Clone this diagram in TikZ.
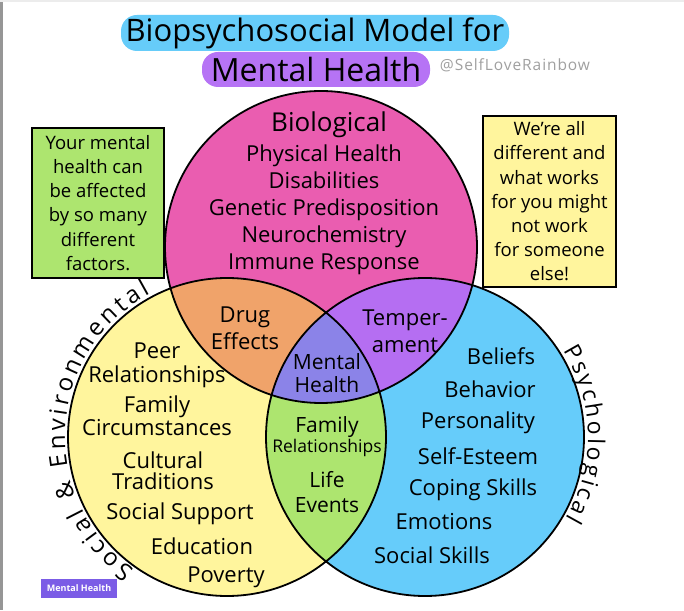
\documentclass[tikz,border=0pt]{standalone}
\usepackage{fontspec}
\setmainfont{Open Sans}
\newfontfamily\handlefont[LetterSpace=6]{Open Sans}
\usetikzlibrary{decorations.text}
\definecolor{pinkc}{RGB}{234,93,176}
\definecolor{yellowc}{RGB}{255,245,157}
\definecolor{bluec}{RGB}{102,204,250}
\definecolor{orangec}{RGB}{240,163,106}
\definecolor{purplec}{RGB}{181,110,242}
\definecolor{greenc}{RGB}{173,229,111}
\definecolor{centerc}{RGB}{139,131,232}
\definecolor{titleblue}{RGB}{102,204,249}
\definecolor{titlepurple}{RGB}{182,115,245}
\definecolor{badgec}{RGB}{123,92,230}
\definecolor{handlegray}{RGB}{160,160,160}
\definecolor{framegray}{RGB}{150,150,150}
\begin{document}
\begin{tikzpicture}[x=1pt,y=1pt,
  outline/.style={line width=1.8pt, draw=black},
  lbl/.style={font=\fontsize{22}{25}\selectfont, align=center, inner sep=0pt},
  notebox/.style={draw=black, line width=1.6pt, align=center, inner sep=0pt, font=\fontsize{18.5}{24.2}\selectfont},
  titlebox/.style={rounded corners=16pt, inner sep=0pt, minimum height=36pt},
  arctext/.style={decorate, decoration={text along path, text align=fit to path}}]
\useasboundingbox (0,0) rectangle (684,610);
\fill[white] (0,0) rectangle (684,610);
\fill[framegray] (0,0) rectangle (2.5,610);
\fill[gray!15] (0,608) rectangle (684,610);

% title
\node[titlebox, fill=titleblue, minimum width=388pt, font=\fontsize{31}{31}\selectfont] (t1) at (315,577) {Biopsychosocial Model for};
\node[titlebox, fill=titlepurple, minimum width=228pt, minimum height=35pt, font=\fontsize{32}{32}\selectfont] (t2) at (316,540.5) {Mental Health};
\node[text=handlegray, font=\handlefont\fontsize{15.5}{15.5}\selectfont, inner sep=0pt] (handle) at (515,545) {@SelfLoveRainbow};

% circles
\coordinate (P) at (321,363);
\coordinate (Y) at (227,173);
\coordinate (B) at (425,173);
\fill[pinkc] (P) circle[radius=156];
\fill[yellowc] (Y) circle[radius=159];
\fill[bluec] (B) circle[radius=159];
\begin{scope}
  \clip (P) circle[radius=156];
  \fill[orangec] (Y) circle[radius=159];
  \fill[purplec] (B) circle[radius=159];
\end{scope}
\begin{scope}
  \clip (Y) circle[radius=159];
  \fill[greenc] (B) circle[radius=159];
  \clip (P) circle[radius=156];
  \fill[centerc] (B) circle[radius=159];
\end{scope}
\draw[outline] (P) circle[radius=156] (Y) circle[radius=159] (B) circle[radius=159];

% note boxes
\node[notebox, fill=greenc, minimum width=132pt, minimum height=150pt] (lbox) at (98,407) {Your mental\\health can\\be affected\\by so many\\different\\factors.};
\node[notebox, fill=yellowc, minimum width=133pt, minimum height=171pt] (rbox) at (549.5,408.5) {We're all\\different and\\what works\\for you might\\not work\\for someone\\else!};

% biological
\node[lbl, font=\fontsize{26}{26}\selectfont] (bio) at (329,485) {Biological};
\node[lbl, font=\fontsize{22}{27}\selectfont] (biolist) at (324,400) {Physical Health\\Disabilities\\Genetic Predisposition\\Neurochemistry\\Immune Response};

% overlaps
\node[lbl, font=\fontsize{22}{27.5}\selectfont] (drug) at (245,281.5) {Drug\\Effects};
\node[lbl, font=\fontsize{22}{27}\selectfont] (temper) at (405,278.5) {Temper-\\ament};
\node[lbl, font=\fontsize{21}{23}\selectfont] (mh) at (327,236.5) {Mental\\Health};
\node[lbl, font=\fontsize{21}{21}\selectfont] (fam) at (327,183) {Family};
\node[lbl, font=\fontsize{17.5}{17.5}\selectfont] (rel) at (327,162) {Relationships};
\node[lbl, font=\fontsize{21}{25}\selectfont] (life) at (327,117.5) {Life\\Events};

% social & environmental
\node[lbl, font=\fontsize{22}{24}\selectfont] (peer) at (157,245) {Peer\\Relationships};
\node[lbl, font=\fontsize{22}{22.5}\selectfont] (famc) at (157,194) {Family\\Circumstances};
\node[lbl, font=\fontsize{22}{21.5}\selectfont] (cult) at (163,139.5) {Cultural\\Traditions};
\node[lbl] (ssup) at (180,96) {Social Support};
\node[lbl] (edu) at (202,64) {Education};
\node[lbl] (pov) at (226,33) {Poverty};

% psychological
\node[lbl] (bel) at (501,254) {Beliefs};
\node[lbl] (beh) at (490,221) {Behavior};
\node[lbl] (pers) at (478,187) {Personality};
\node[lbl] (self) at (478,154) {Self-Esteem};
\node[lbl] (cope) at (473,120) {Coping Skills};
\node[lbl] (emo) at (444,88) {Emotions};
\node[lbl] (ssk) at (432,55) {Social Skills};

% curved labels
\path[arctext, decoration={text={|\fontsize{24}{24}\selectfont|Social {\&} Environmental}}]
  ([shift={(235:162)}]Y) arc[start angle=235, end angle=118, radius=162];
\path[arctext, decoration={text={|\fontsize{23}{23}\selectfont|Psychological}}]
  ([shift={(32:163)}]B) arc[start angle=32, end angle=-30, radius=163];

% badge
\node[fill=badgec, text=white, font=\bfseries\fontsize{9}{9}\selectfont, minimum width=76pt, minimum height=19pt, inner sep=0pt] (badge) at (79,21.5) {Mental Health};
\end{tikzpicture}
\end{document}
